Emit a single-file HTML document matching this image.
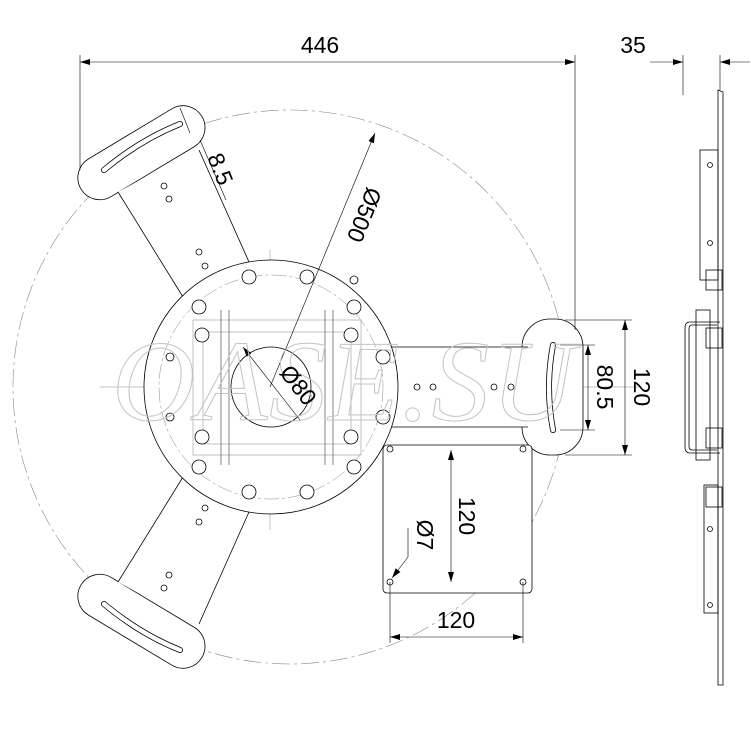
<!DOCTYPE html>
<html><head><meta charset="utf-8"><style>html,body{margin:0;padding:0;background:#fff}svg{display:block}</style></head><body>
<svg width="751" height="751" viewBox="0 0 751 751" xmlns="http://www.w3.org/2000/svg" font-family="Liberation Sans, sans-serif">
<defs><marker id="a" viewBox="0 0 10 6" refX="10" refY="3" markerWidth="10" markerHeight="6" orient="auto-start-reverse" markerUnits="userSpaceOnUse"><path d="M0,0L10,3L0,6z" fill="#000"/></marker></defs>
<g fill="none" stroke="#000" stroke-width="0.8">
<circle cx="290" cy="387" r="277" stroke="#888" stroke-dasharray="18 4 3 4" stroke-width="0.6"/>
<line x1="100" y1="387" x2="640" y2="387" stroke="#888" stroke-width="0.5"/>
<line x1="270" y1="250" x2="270" y2="530" stroke="#888" stroke-width="0.5"/>
<!-- top arm -->
<rect x="71" y="131" width="141" height="44" rx="22" transform="rotate(-31 141 153)" fill="#fff"/>
<polygon points="118,192 183,297 249,262 199,148" fill="#fff" stroke="none"/>
<path d="M118,192 L183,297 M199,150 L249,262"/>
<path d="M104,170 Q140,140 180,124" stroke-width="6" stroke-linecap="round"/>
<path d="M104,170 Q140,140 180,124" stroke="#fff" stroke-width="4.4" stroke-linecap="round"/>
<!-- bottom arm -->
<rect x="71" y="599" width="141" height="44" rx="22" transform="rotate(31 141 621)" fill="#fff"/>
<polygon points="118,582 183,477 249,512 199,626" fill="#fff" stroke="none"/>
<path d="M118,582 L183,477 M199,624 L249,512"/>
<path d="M104,604 Q140,634 180,650" stroke-width="6" stroke-linecap="round"/>
<path d="M104,604 Q140,634 180,650" stroke="#fff" stroke-width="4.4" stroke-linecap="round"/>
<!-- right arm -->
<rect x="522" y="319" width="61" height="136" rx="28" fill="#fff"/>
<polygon points="380,347 528,347 528,427 380,427" fill="#fff" stroke="none"/>
<path d="M380,347 L528,347 M380,427 L528,427"/>
<path d="M553,345 Q545,387 553,430" stroke-width="6" stroke-linecap="round"/>
<path d="M553,345 Q545,387 553,430" stroke="#fff" stroke-width="4.4" stroke-linecap="round"/>
<!-- hub -->
<circle cx="271" cy="387" r="127" fill="#fff"/>
<circle cx="271" cy="387" r="112" stroke="#888" stroke-width="0.5" stroke-dasharray="15 3 3 3"/>
<circle cx="271" cy="387" r="40"/>
<rect x="193" y="320" width="168" height="135" stroke="#999" stroke-width="0.6"/>
<rect x="203" y="332" width="148" height="112" stroke="#999" stroke-width="0.6"/>
<path d="M221,310 V465 M229,310 V465 M325,310 V465 M333,310 V465" stroke="#666"/>
<g fill="#fff">
<circle cx="249" cy="277" r="7"/><circle cx="307" cy="277" r="7"/>
<circle cx="199" cy="307" r="7"/><circle cx="354" cy="307" r="7"/>
<circle cx="202" cy="335" r="7"/><circle cx="351" cy="335" r="7"/>
<circle cx="202" cy="437" r="7"/><circle cx="351" cy="437" r="7"/>
<circle cx="199" cy="467" r="7"/><circle cx="354" cy="467" r="7"/>
<circle cx="249" cy="492" r="7"/><circle cx="307" cy="492" r="7"/>
<circle cx="383" cy="357" r="7"/><circle cx="383" cy="417" r="7"/>
</g>
<g>
<circle cx="354" cy="280" r="4"/>
<circle cx="170" cy="357" r="4"/><circle cx="170" cy="417" r="4"/>
<circle cx="164" cy="186" r="3"/><circle cx="169" cy="199" r="3"/>
<circle cx="199" cy="252" r="3"/><circle cx="205" cy="266" r="3"/>
<circle cx="164" cy="588" r="3"/><circle cx="169" cy="575" r="3"/>
<circle cx="199" cy="522" r="3"/><circle cx="205" cy="508" r="3"/>
<circle cx="417" cy="387" r="3"/><circle cx="433" cy="387" r="3"/>
<circle cx="494" cy="387" r="3"/><circle cx="511" cy="387" r="3"/>
</g>
<rect x="383" y="445" width="149" height="148" rx="4" fill="#fff"/>
<circle cx="390" cy="449" r="3"/><circle cx="523" cy="449" r="3"/>
<circle cx="390" cy="582" r="3"/><circle cx="523" cy="582" r="3"/>
<!-- side view -->
<path d="M718,90 L723,92 L723,685 L718,685 Z"/>
<rect x="700" y="150" width="18" height="130"/>
<rect x="704" y="485" width="14" height="128"/>
<circle cx="710" cy="243" r="2.5"/><circle cx="710" cy="165" r="2.5"/>
<circle cx="710" cy="529" r="2.5"/><circle cx="710" cy="605" r="2.5"/>
<path d="M720,322 H690 Q685,322 685,328 V447 Q685,453 690,453 H720"/>
<path d="M717,325 H692 Q689,325 689,329 V446 Q689,450 692,450 H717"/>
<rect x="696" y="310" width="14" height="150"/>
<rect x="706" y="270" width="16" height="20"/><rect x="706" y="328" width="16" height="20"/>
<rect x="706" y="428" width="16" height="20"/><rect x="706" y="487" width="16" height="20"/>
<g stroke-width="0.6">
<line x1="80" y1="55" x2="80" y2="170"/><line x1="575" y1="55" x2="575" y2="330"/>
<line x1="80" y1="62" x2="575" y2="62" marker-start="url(#a)" marker-end="url(#a)"/>
<line x1="683" y1="55" x2="683" y2="95"/><line x1="720" y1="55" x2="720" y2="90"/>
<line x1="650" y1="62" x2="683" y2="62" marker-end="url(#a)"/><line x1="750" y1="62" x2="720" y2="62" marker-end="url(#a)"/>
<line x1="565" y1="320" x2="632" y2="320"/><line x1="565" y1="455" x2="632" y2="455"/>
<line x1="625" y1="320" x2="625" y2="455" marker-start="url(#a)" marker-end="url(#a)"/>
<line x1="560" y1="345" x2="595" y2="345"/><line x1="560" y1="430" x2="595" y2="430"/>
<line x1="588" y1="345" x2="588" y2="430" marker-start="url(#a)" marker-end="url(#a)"/>
<line x1="451" y1="450" x2="451" y2="582" marker-start="url(#a)" marker-end="url(#a)"/>
<line x1="390" y1="582" x2="390" y2="643"/><line x1="523" y1="582" x2="523" y2="643"/>
<line x1="390" y1="637" x2="523" y2="637" marker-start="url(#a)" marker-end="url(#a)"/>
<line x1="408" y1="528" x2="408" y2="557"/><line x1="408" y1="557" x2="392" y2="578" marker-end="url(#a)"/>
<line x1="180" y1="108" x2="190" y2="133"/>
<line x1="200" y1="140" x2="226" y2="200"/>
<line x1="270" y1="387" x2="375" y2="133" marker-end="url(#a)"/>
<line x1="300" y1="420" x2="243" y2="347" marker-end="url(#a)"/>
</g>
</g>
<text x="112" y="420" font-family="Liberation Serif, serif" font-style="italic" font-size="115" fill="none" stroke="#c4c4c4" stroke-width="1" letter-spacing="2">OASE.SU</text>
<g font-size="23" fill="#000">
<text x="320" y="53" text-anchor="middle">446</text>
<text x="633" y="53" text-anchor="middle">35</text>
<text transform="translate(634,387) rotate(90)" text-anchor="middle">120</text>
<text transform="translate(597,387) rotate(90)" text-anchor="middle">80.5</text>
<text transform="translate(459,516) rotate(90)" text-anchor="middle">120</text>
<text transform="translate(417,535) rotate(90)" text-anchor="middle">Ø7</text>
<text x="456" y="628" text-anchor="middle">120</text>
<text transform="translate(213,172) rotate(68)" text-anchor="middle">8.5</text>
<text transform="translate(357,212) rotate(112)" text-anchor="middle">Ø500</text>
<text transform="translate(292,390) rotate(52)" text-anchor="middle">Ø80</text>
</g>
</svg>
</body></html>
